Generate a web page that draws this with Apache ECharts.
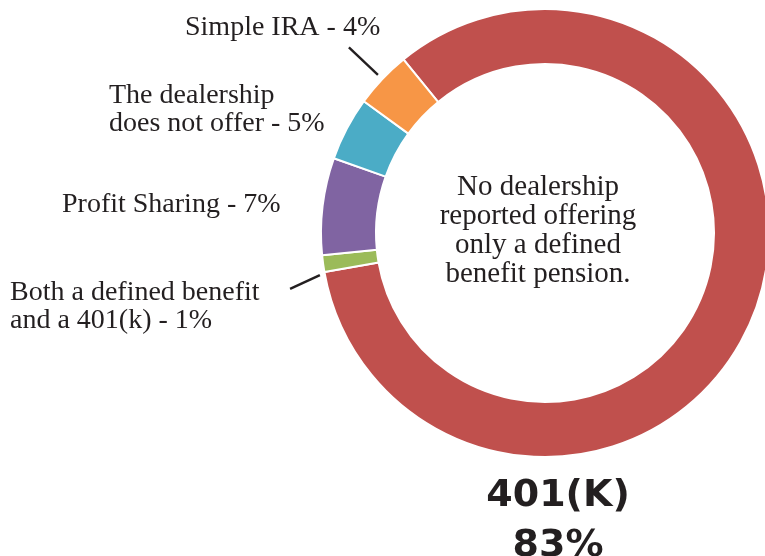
<!DOCTYPE html>
<html>
<head>
<meta charset="utf-8">
<script src="https://cdn.jsdelivr.net/npm/echarts@6/dist/echarts.min.js"></script>
<style>
html,body{margin:0;padding:0;background:#fff;}
#chart{width:765px;height:556px;}
</style>
</head>
<body>
<div id="chart"></div>
<script>
// ---- data ----
var categories = [
  '401(K)',
  'Both a defined benefit\nand a 401(k)',
  'Profit Sharing',
  'The dealership\ndoes not offer',
  'Simple IRA'
];
var shares = [83.1, 1.2, 7.0, 4.6, 4.1];
var colors = ['#C0504D', '#9BBB59', '#8064A2', '#4BACC6', '#F79646'];
var centerNote = ['No dealership', 'reported offering', 'only a defined', 'benefit pension.'];

// ---- layout (label anchors & leader geometry, not data) ----
var PIE_CENTER = [545, 233];
var labelAnchors = [
  {x: 558, y: 521.5, align: 'center'},
  {x: 10,  y: 306.5, align: 'left'},
  {x: 62,  y: 205, align: 'left'},
  {x: 109, y: 110, align: 'left'},
  {x: 185, y: 27.5, align: 'left'}
];
// leader lines in polar terms relative to the slice's mid-angle (degrees, screen) and radius
var leaders = [
  null,
  {a0: -2.7, r0: 229, a1: -4.5, r1: 261},
  null,
  null,
  {a0: 0, r0: 230, a1: 0, r1: 270}
];

var serifLabel = {
  fontFamily: 'Liberation Serif', fontSize: 28, lineHeight: 28, color: '#231f20'
};
var bigLabel = {
  fontFamily: 'DejaVu Sans', fontWeight: 'bold', fontSize: 38, lineHeight: 50, color: '#231f20'
};

var data = categories.map(function (name, i) {
  return {
    name: name,
    value: shares[i],
    itemStyle: {color: colors[i]},
    label: i === 0 ? bigLabel : serifLabel,
    labelLine: leaders[i]
      ? {show: true, length: 30, length2: 0, lineStyle: {color: '#231f20', width: 2.4}}
      : {show: false}
  };
});

var chart = echarts.init(document.getElementById('chart'), null, {renderer: 'canvas'});
chart.setOption({
  animation: false,
  backgroundColor: '#ffffff',
  series: [{
    type: 'pie',
    center: PIE_CENTER,
    radius: [169, 224],
    startAngle: 129.2,
    clockwise: true,
    avoidLabelOverlap: false,
    itemStyle: {borderColor: '#ffffff', borderWidth: 2},
    emphasis: {disabled: true},
    label: {
      show: true,
      position: 'outside',
      formatter: function (p) {
        var pct = Math.round(p.value) + '%';
        if (p.dataIndex === 0) return p.name + '\n' + pct;
        return p.name + ' - ' + pct;
      }
    },
    labelLayout: function (params) {
      var i = params.dataIndex;
      var a = labelAnchors[i];
      var res = {x: a.x, y: a.y, align: a.align, verticalAlign: 'middle'};
      var pts = params.labelLinePoints;
      var L = leaders[i];
      if (L && pts && pts.length >= 2) {
        var cx = PIE_CENTER[0], cy = PIE_CENTER[1];
        var mid = Math.atan2(pts[0][1] - cy, pts[0][0] - cx);
        var t0 = mid + L.a0 * Math.PI / 180, t1 = mid + L.a1 * Math.PI / 180;
        res.labelLinePoints = [
          [cx + L.r0 * Math.cos(t0), cy + L.r0 * Math.sin(t0)],
          [cx + L.r1 * Math.cos(t1), cy + L.r1 * Math.sin(t1)]
        ];
      }
      return res;
    },
    data: data
  }],
  graphic: [{
    type: 'text',
    x: 538,
    y: 231,
    style: {
      text: centerNote.join('\n'),
      fontFamily: 'Liberation Serif',
      fontSize: 29,
      lineHeight: 29,
      fill: '#231f20',
      align: 'center',
      verticalAlign: 'middle'
    }
  }]
});
</script>
</body>
</html>
